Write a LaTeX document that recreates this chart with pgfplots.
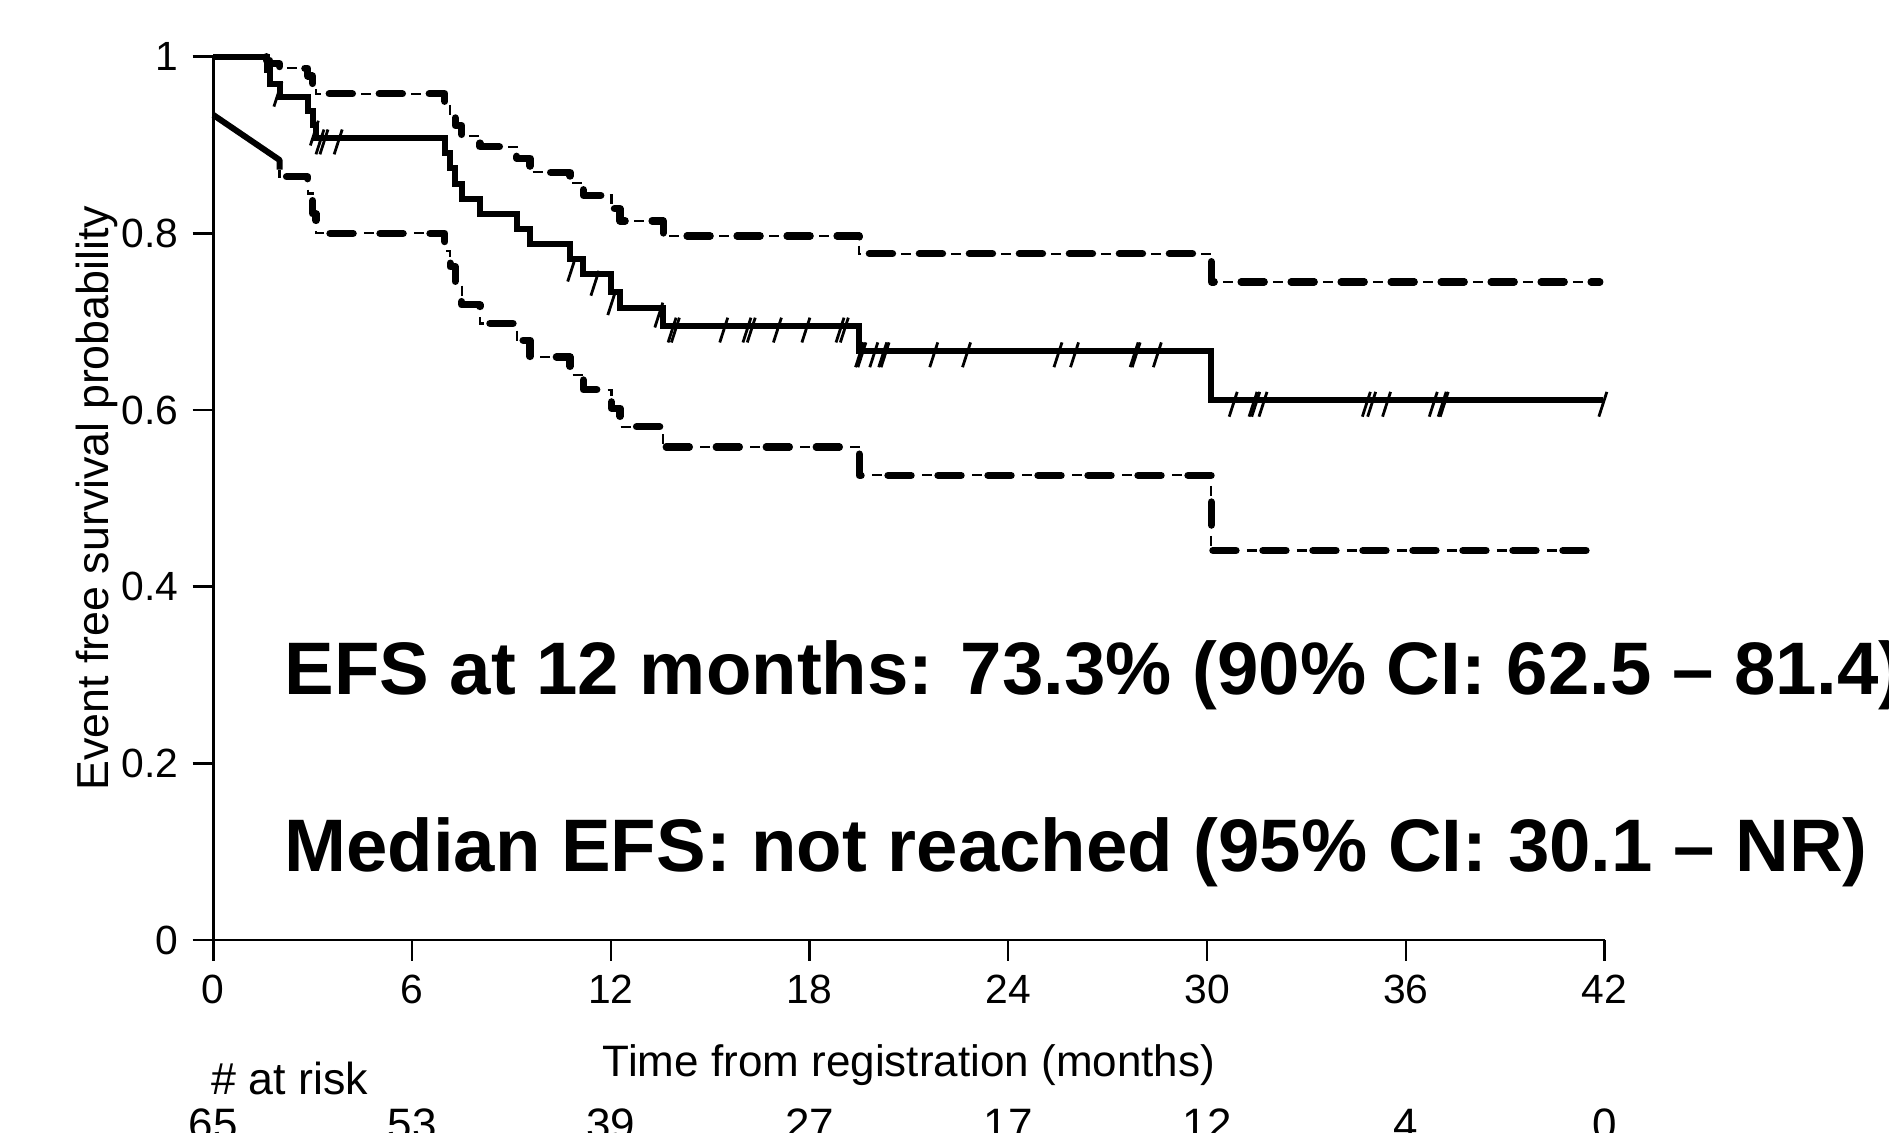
\documentclass[border=0pt]{standalone}
\usepackage{fontspec}
\setmainfont{Liberation Sans}
\usepackage{pgfplots}
\pgfplotsset{compat=1.18}

\pgfdeclareplotmark{cens}{%
  \pgfpathmoveto{\pgfqpoint{-1.0pt}{-4.1pt}}%
  \pgfpathlineto{\pgfqpoint{1.0pt}{2.1pt}}%
  \pgfusepathqstroke}

\begin{document}
\begin{tikzpicture}[x=1pt,y=1pt]
\begin{axis}[
  scale only axis, width=347.8pt, height=220.83pt,
  at={(53.33pt,48.25pt)}, anchor=south west,
  xmin=0, xmax=42, ymin=0, ymax=1,
  axis lines=left, axis line style={-, line width=0.7pt, black},
  xtick={0,6,12,18,24,30,36,42},
  ytick={0,0.2,0.4,0.6,0.8,1},
  yticklabels={0,0.2,0.4,0.6,0.8,1},
  tick align=outside, major tick length=5.2pt,
  tick style={line width=0.6pt, black},
  ticklabel style={font=\fontsize{10.2}{12}\selectfont},
  /pgf/number format/assume math mode=true,
  clip=false,
]
% upper CI (thick long dashes + thin short dashes)
\addplot[black, line width=1.8pt, line cap=round, line join=round, dash pattern=on 5.8pt off 6.7pt] coordinates {
(1.6,1.0) (1.6,0.996) (1.7,0.996) (1.7,0.992) (2.0,0.992) (2.0,0.987)
(2.85,0.987) (2.85,0.978) (3.0,0.978) (3.0,0.968) (3.1,0.968) (3.1,0.958)
(6.99,0.958) (6.99,0.946) (7.15,0.946) (7.15,0.934) (7.3,0.934) (7.3,0.922)
(7.5,0.922) (7.5,0.910) (8.05,0.910) (8.05,0.898) (9.16,0.898) (9.16,0.885)
(9.56,0.885) (9.56,0.869) (10.77,0.869) (10.77,0.857) (11.17,0.857) (11.17,0.843)
(12.02,0.843) (12.02,0.828) (12.28,0.828) (12.28,0.814) (13.58,0.814) (13.58,0.797)
(19.5,0.797) (19.5,0.777) (30.13,0.777) (30.13,0.745) (41.86,0.745)};
\addplot[black, line width=0.55pt, dash pattern=on 2.5pt off 10pt, dash phase=4.5pt] coordinates {
(1.6,1.0) (1.6,0.996) (1.7,0.996) (1.7,0.992) (2.0,0.992) (2.0,0.987)
(2.85,0.987) (2.85,0.978) (3.0,0.978) (3.0,0.968) (3.1,0.968) (3.1,0.958)
(6.99,0.958) (6.99,0.946) (7.15,0.946) (7.15,0.934) (7.3,0.934) (7.3,0.922)
(7.5,0.922) (7.5,0.910) (8.05,0.910) (8.05,0.898) (9.16,0.898) (9.16,0.885)
(9.56,0.885) (9.56,0.869) (10.77,0.869) (10.77,0.857) (11.17,0.857) (11.17,0.843)
(12.02,0.843) (12.02,0.828) (12.28,0.828) (12.28,0.814) (13.58,0.814) (13.58,0.797)
(19.5,0.797) (19.5,0.777) (30.13,0.777) (30.13,0.745) (41.86,0.745)};
% lower CI
\addplot[black, line width=1.5pt, line join=round] coordinates {(0,0.934) (2.0,0.883) (2.0,0.872)};
\addplot[black, line width=1.8pt, line cap=round, line join=round, dash pattern=on 5.8pt off 6.7pt, dash phase=9pt] coordinates {
(2.0,0.872) (2.0,0.864) (2.85,0.864) (2.85,0.845) (3.0,0.845) (3.0,0.822) (3.1,0.822) (3.1,0.800)
(6.99,0.800) (6.99,0.780) (7.15,0.780) (7.15,0.762) (7.3,0.762) (7.3,0.745)
(7.5,0.745) (7.5,0.719) (8.05,0.719) (8.05,0.698) (9.16,0.698) (9.16,0.679)
(9.56,0.679) (9.56,0.660) (10.77,0.660) (10.77,0.640) (11.17,0.640) (11.17,0.623)
(12.02,0.623) (12.02,0.602) (12.28,0.602) (12.28,0.581) (13.58,0.581) (13.58,0.558)
(19.5,0.558) (19.5,0.526) (30.13,0.526) (30.13,0.441) (41.76,0.441)};
\addplot[black, line width=0.55pt, dash pattern=on 2.5pt off 10pt, dash phase=0.5pt] coordinates {
(2.0,0.872) (2.0,0.864) (2.85,0.864) (2.85,0.845) (3.0,0.845) (3.0,0.822) (3.1,0.822) (3.1,0.800)
(6.99,0.800) (6.99,0.780) (7.15,0.780) (7.15,0.762) (7.3,0.762) (7.3,0.745)
(7.5,0.745) (7.5,0.719) (8.05,0.719) (8.05,0.698) (9.16,0.698) (9.16,0.679)
(9.56,0.679) (9.56,0.660) (10.77,0.660) (10.77,0.640) (11.17,0.640) (11.17,0.623)
(12.02,0.623) (12.02,0.602) (12.28,0.602) (12.28,0.581) (13.58,0.581) (13.58,0.558)
(19.5,0.558) (19.5,0.526) (30.13,0.526) (30.13,0.441) (41.76,0.441)};
% KM estimate
\addplot[const plot, black, line width=1.5pt, line join=miter] coordinates {
(0,1) (1.62,0.985) (1.70,0.969) (2.00,0.954) (2.85,0.938) (3.00,0.923) (3.10,0.908)
(6.99,0.891) (7.15,0.874) (7.30,0.856) (7.50,0.839) (8.05,0.822) (9.16,0.805)
(9.56,0.788) (10.77,0.771) (11.17,0.754) (12.02,0.734) (12.28,0.715) (13.58,0.695)
(19.50,0.667) (30.13,0.611) (41.95,0.611)};
% censoring marks
\addplot[only marks, mark=cens, black, mark options={line width=0.7pt}] coordinates {
(1.95,0.962) (3.05,0.918) (3.22,0.908) (3.34,0.908) (3.77,0.908)
(10.82,0.764) (11.52,0.748) (12.03,0.726) (13.45,0.712) (13.85,0.695) (13.95,0.695)
(15.41,0.695) (16.11,0.695) (16.24,0.695) (17.03,0.695) (17.89,0.695) (18.92,0.695) (19.05,0.695)
(19.51,0.667) (19.58,0.667) (19.94,0.667) (20.21,0.667) (20.28,0.667) (21.75,0.667) (22.74,0.667)
(25.5,0.667) (26.0,0.667) (27.8,0.667) (27.86,0.667) (28.5,0.667)
(30.79,0.611) (31.39,0.611) (31.47,0.611) (31.69,0.611) (34.81,0.611) (34.97,0.611) (35.42,0.611)
(36.83,0.611) (37.10,0.611) (37.16,0.611) (41.95,0.611)};
% numbers at risk
\foreach \t/\n in {0/65,6/53,12/39,18/27,24/17,30/12,36/4,42/0}{
  \edef\temp{\noexpand\node[anchor=base, inner sep=0pt, yshift=-49.85pt, font=\noexpand\fontsize{11}{13}\noexpand\selectfont] at (axis cs:\t,0) {\n};}
  \temp
}
\end{axis}
\node[anchor=base west, inner sep=0pt, font=\bfseries\fontsize{18.6}{22}\selectfont] at (70.9pt,109.7pt) {EFS at 12 months: 73.3\% (90\% CI: 62.5 -- 81.4)};
\node[anchor=base west, inner sep=0pt, font=\bfseries\fontsize{18.6}{22}\selectfont] at (70.9pt,65.3pt) {Median EFS: not reached (95\% CI: 30.1 -- NR)};
\node[anchor=base, inner sep=0pt, font=\fontsize{11}{13}\selectfont] at (227.25pt,14.08pt) {Time from registration (months)};
\node[anchor=base west, inner sep=0pt, font=\fontsize{11.2}{13}\selectfont] at (52.7pt,9.5pt) {\# at risk};
\node[anchor=base, rotate=90, inner sep=0pt, font=\fontsize{11.2}{13}\selectfont] at (27pt,158.7pt) {Event free survival probability};
\pgfresetboundingbox
\path[use as bounding box] (0,0) rectangle (472.25pt,283.25pt);
\end{tikzpicture}
\end{document}
